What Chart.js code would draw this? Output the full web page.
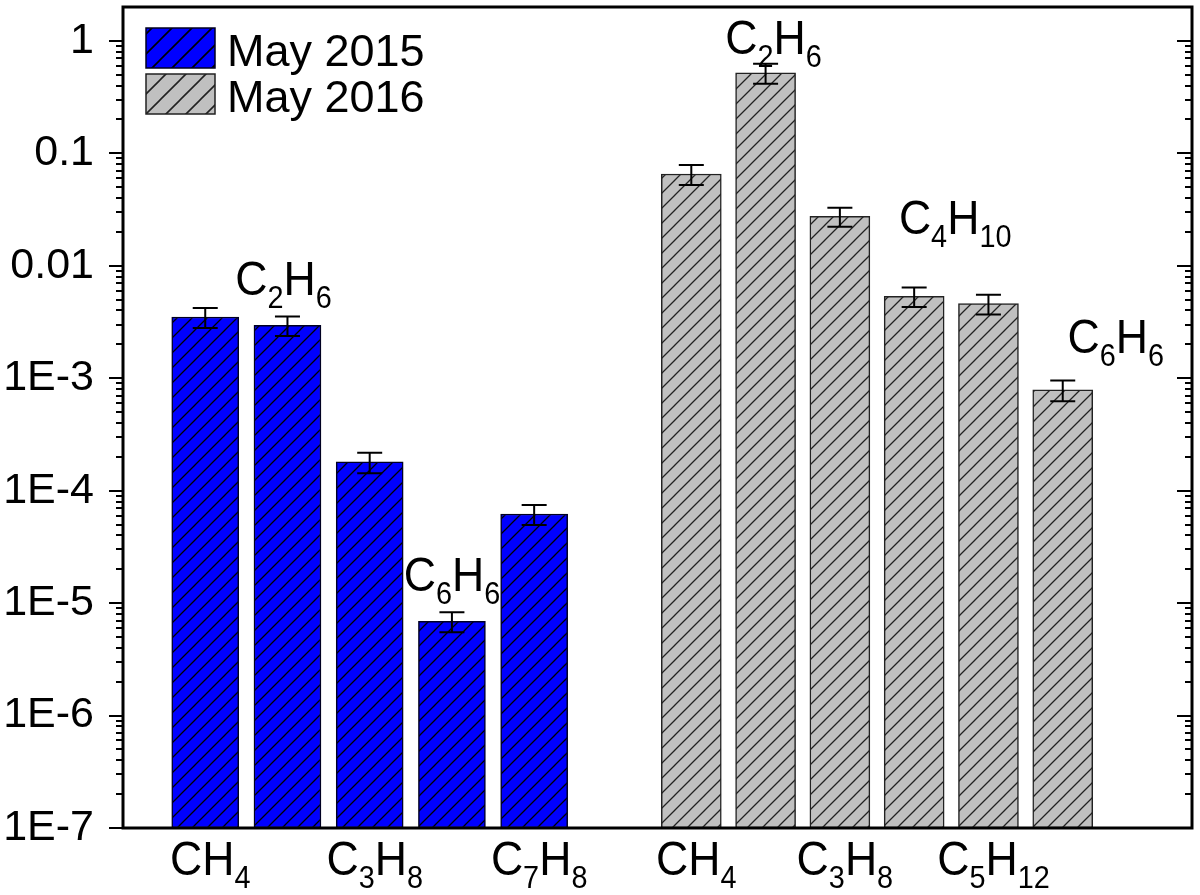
<!DOCTYPE html>
<html>
<head>
<meta charset="utf-8">
<script src="https://cdn.jsdelivr.net/npm/chart.js@4/dist/chart.umd.min.js"></script>
<style>
  html, body { margin: 0; padding: 0; background: #fff; }
  #wrap { width: 1200px; height: 895px; }
</style>
</head>
<body>
<div id="wrap"><canvas id="chart"></canvas></div>
<script>
// May 2015 campaign
var blueLabels = ['CH4', 'C2H6', 'C3H8', 'C6H6', 'C7H8'];
var blueValues = [3.5e-3, 2.95e-3, 1.8e-4, 6.9e-6, 6.2e-5];
var blueErrors = [0.7e-3, 0.58e-3, 0.37e-4, 1.4e-6, 1.24e-5];

// May 2016 campaign
var grayLabels = ['CH4', 'C2H6', 'C3H8', 'C4H10', 'C5H12', 'C6H6'];
var grayValues = [0.0655, 0.52, 0.0275, 5.35e-3, 4.6e-3, 7.9e-4];
var grayErrors = [0.0132, 0.105, 0.0053, 1.05e-3, 0.92e-3, 1.65e-4];

var seriesNames = ['May 2015', 'May 2016'];

// y tick labels, by decade
var yTickExps = [0, -1, -2, -3, -4, -5, -6, -7];
var yTickText = ['1', '0.1', '0.01', '1E-3', '1E-4', '1E-5', '1E-6', '1E-7'];

// where the formula for odd bars sits: [dx from bar centre, px above error cap]
var blueNoteOffsets = { 1: [-4, 22], 3: [0, 21] };
var grayNoteOffsets = { 1: [8, 10], 3: [41, 54], 5: [53, 27] };

var FONT = '"Liberation Sans", Arial, Helvetica, sans-serif';
var MAIN_FONT = '48px ' + FONT;
var SUB_FONT = '31px ' + FONT;

var canvas = document.getElementById('chart');
var mainCtx = canvas.getContext('2d');

function makeHatch(bg, line, size, lw) {
  var c = document.createElement('canvas');
  c.width = size; c.height = size;
  var g = c.getContext('2d');
  g.fillStyle = bg;
  g.fillRect(0, 0, size, size);
  g.strokeStyle = line;
  g.lineWidth = lw;
  g.beginPath();
  g.moveTo(0, size); g.lineTo(size, 0);
  g.moveTo(-size / 2, size / 2); g.lineTo(size / 2, -size / 2);
  g.moveTo(size / 2, size * 1.5); g.lineTo(size * 1.5, size / 2);
  g.stroke();
  return mainCtx.createPattern(c, 'repeat');
}

var blueHatch = makeHatch('#0000ff', '#000000', 15, 1.3);
var grayHatch = makeHatch('#c0c0c0', '#222222', 15, 1.3);
var blueLegendHatch = makeHatch('#0000ff', '#000000', 20, 1.6);
var grayLegendHatch = makeHatch('#c0c0c0', '#222222', 20, 1.6);

function drawFormula(ctx, text, cx, baseline) {
  var parts = text.match(/[A-Za-z]+|[0-9]+/g);
  ctx.save();
  ctx.translate(cx, baseline);
  ctx.scale(0.93, 1);
  ctx.textAlign = 'left';
  ctx.textBaseline = 'alphabetic';
  ctx.fillStyle = '#000';
  var widths = [], total = 0;
  parts.forEach(function (p) {
    ctx.font = /\d/.test(p) ? SUB_FONT : MAIN_FONT;
    var w = ctx.measureText(p).width;
    widths.push(w);
    total += w;
  });
  var x = -total / 2;
  parts.forEach(function (p, i) {
    var sub = /\d/.test(p);
    ctx.font = sub ? SUB_FONT : MAIN_FONT;
    ctx.fillText(p, x, sub ? 13 : 0);
    x += widths[i];
  });
  ctx.restore();
}

var extras = {
  id: 'extras',
  afterDatasetsDraw: function (chart) {
    var ctx = chart.ctx;
    var y = chart.scales.y;
    var area = chart.chartArea;

    // error bars + formula labels
    chart.data.datasets.forEach(function (ds, di) {
      var meta = chart.getDatasetMeta(di);
      meta.data.forEach(function (bar, i) {
        var v = ds.values[i], e = ds.errors[i];
        var top = y.getPixelForValue(v + e);
        var bot = y.getPixelForValue(v - e);
        ctx.save();
        ctx.strokeStyle = '#000';
        ctx.lineWidth = 2;
        ctx.beginPath();
        ctx.moveTo(bar.x, top); ctx.lineTo(bar.x, bot);
        ctx.moveTo(bar.x - 12.5, top); ctx.lineTo(bar.x + 12.5, top);
        ctx.moveTo(bar.x - 12.5, bot); ctx.lineTo(bar.x + 12.5, bot);
        ctx.stroke();
        ctx.restore();

        if (i % 2 === 0) {
          drawFormula(ctx, ds.names[i], bar.x + 5, area.bottom + 47);
        } else {
          var off = ds.noteOffsets[i];
          drawFormula(ctx, ds.names[i], bar.x + off[0], top - off[1]);
        }
      });
    });
  },
  afterDraw: function (chart) {
    var ctx = chart.ctx;
    var y = chart.scales.y;
    var area = chart.chartArea;

    // tick marks, left (outside) and right (inside)
    ctx.save();
    ctx.strokeStyle = '#000';
    ctx.lineWidth = 2;
    ctx.beginPath();
    for (var e = -7; e <= 0; e++) {
      for (var k = 1; k <= 9; k++) {
        var v = k * Math.pow(10, e);
        if (v > 1.0000001) break;
        var py = Math.round(y.getPixelForValue(v));
        var len = k === 1 ? 14 : 7;
        ctx.moveTo(area.left - len, py); ctx.lineTo(area.left, py);
        ctx.moveTo(area.right - (k === 1 ? 15 : 7), py); ctx.lineTo(area.right, py);
      }
    }
    ctx.stroke();

    // frame
    ctx.lineWidth = 3;
    ctx.strokeRect(area.left, area.top, area.right - area.left, area.bottom - area.top);
    ctx.restore();

    // legend
    ctx.save();
    chart.data.datasets.forEach(function (ds, di) {
      var bx = area.left + 23, by = area.top + 21 + di * 46;
      ctx.fillStyle = ds.legendFill;
      ctx.fillRect(bx, by, 69, 40);
      ctx.strokeStyle = ds.borderColor;
      ctx.lineWidth = 1.5;
      ctx.strokeRect(bx, by, 69, 40);
      ctx.fillStyle = '#000';
      ctx.font = '45px ' + FONT;
      ctx.textAlign = 'left';
      ctx.textBaseline = 'alphabetic';
      ctx.fillText(ds.label, bx + 81, by + 38);
    });
    ctx.restore();
  }
};

var hiddenX = function (min, max, h) {
  return {
    type: 'linear', position: 'bottom', min: min, max: max,
    offset: false,
    grid: { display: false, drawTicks: false, offset: false },
    border: { display: false },
    ticks: { display: false },
    afterFit: function (s) {
      s.height = h;
      s.paddingLeft = 0; s.paddingRight = 0;
    }
  };
};

var chart = new Chart(canvas, {
  type: 'bar',
  data: {
    datasets: [{
      label: seriesNames[0],
      xAxisID: 'xb',
      data: blueValues.map(function (v, i) { return { x: i, y: v }; }),
      values: blueValues,
      errors: blueErrors,
      names: blueLabels,
      noteOffsets: blueNoteOffsets,
      backgroundColor: blueHatch,
      legendFill: blueLegendHatch,
      borderColor: '#000022',
      borderWidth: 1.5,
      borderSkipped: false,
      barThickness: 67,
      grouped: false
    }, {
      label: seriesNames[1],
      xAxisID: 'xg',
      data: grayValues.map(function (v, i) { return { x: i, y: v }; }),
      values: grayValues,
      errors: grayErrors,
      names: grayLabels,
      noteOffsets: grayNoteOffsets,
      backgroundColor: grayHatch,
      legendFill: grayLegendHatch,
      borderColor: '#222222',
      borderWidth: 1.5,
      borderSkipped: false,
      barThickness: 60,
      grouped: false
    }]
  },
  options: {
    responsive: true,
    maintainAspectRatio: false,
    animation: false,
    events: [],
    layout: { autoPadding: false, padding: { top: 7, right: 8, bottom: 0, left: 0 } },
    plugins: {
      legend: { display: false },
      title: { display: false },
      tooltip: { enabled: false }
    },
    scales: {
      xb: hiddenX(-1, 12, 67),
      xg: hiddenX(-7.65, 6.74, 0),
      y: {
        type: 'logarithmic',
        position: 'left',
        min: 1e-7,
        max: 2,
        grid: { display: false, drawTicks: false },
        border: { display: false },
        afterFit: function (s) {
          s.width = 123;
          s.paddingTop = 0; s.paddingBottom = 0;
        },
        ticks: {
          autoSkip: false,
          padding: 29,
          color: '#000',
          font: { family: FONT, size: 43 },
          callback: function (value) {
            var ex = Math.log10(value);
            if (Math.abs(ex - Math.round(ex)) > 1e-6) return '';
            var idx = yTickExps.indexOf(Math.round(ex));
            return idx < 0 ? '' : yTickText[idx];
          }
        }
      }
    }
  },
  plugins: [extras]
});
</script>
</body>
</html>
